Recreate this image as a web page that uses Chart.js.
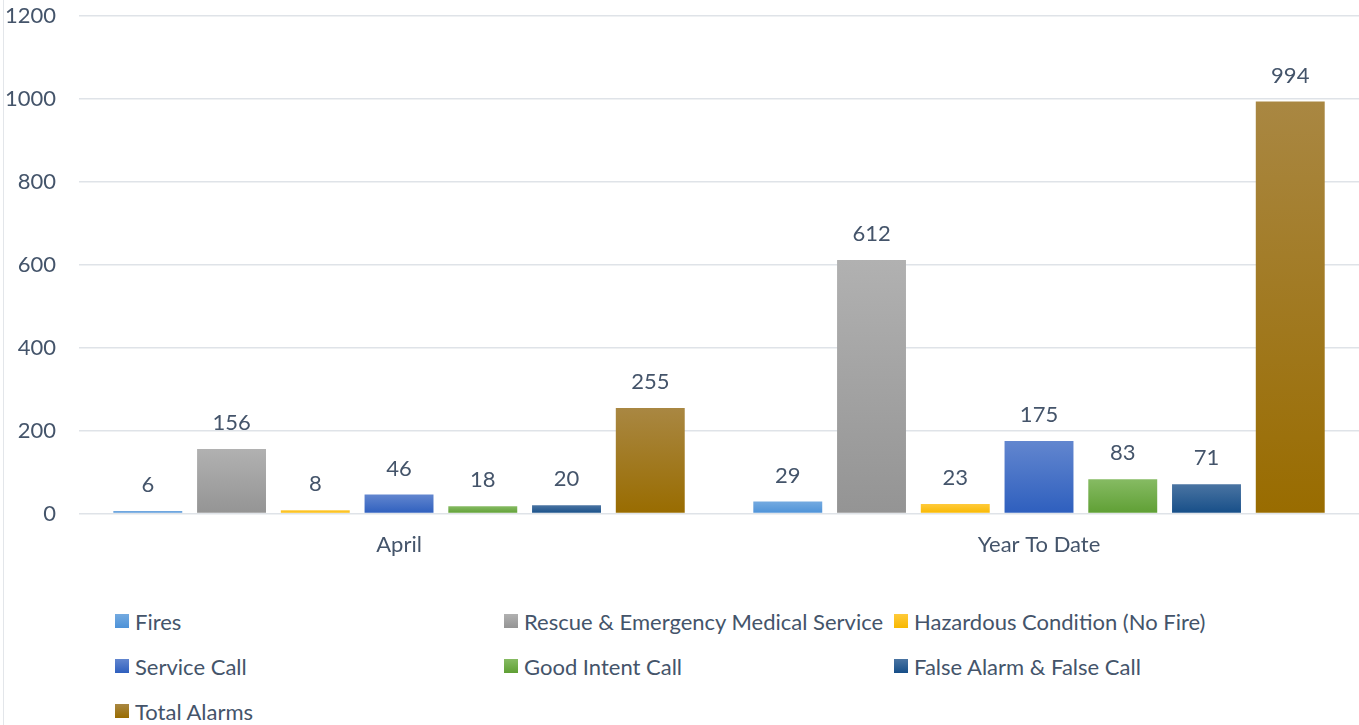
<!DOCTYPE html>
<html>
<head>
<meta charset="utf-8">
<script src="https://cdn.jsdelivr.net/npm/chart.js@4.4.1/dist/chart.umd.min.js"></script>
<style>
  body { margin: 0; background: #fff; font-family: Lato, sans-serif; color: #44546a; }
  #wrap { position: relative; width: 1359px; height: 725px; overflow: hidden; }
  #frame { position: absolute; left: 3px; top: 0; width: 1px; height: 725px; background: #e3e6ea; }
  #chartBox { position: absolute; left: -22px; top: -20px; width: 1381px; height: 600px; }
  #legend { position: absolute; left: 115px; top: 608px; display: grid;
            grid-template-columns: 389px 390px auto; grid-auto-rows: 45px; font-size: 22px; }
  .item { display: flex; align-items: center; white-space: nowrap; height: 26px; }
  .box { width: 14px; height: 14px; margin-right: 6px; }
</style>
</head>
<body>
<div id="wrap">
  <div id="frame"></div>
  <div id="chartBox"><canvas id="barChart"></canvas></div>
  <div id="legend"></div>
</div>
<script>
const categories = ["April", "Year To Date"];
const seriesNames = ["Fires", "Rescue & Emergency Medical Service", "Hazardous Condition (No Fire)",
                     "Service Call", "Good Intent Call", "False Alarm & False Call", "Total Alarms"];
const fires = [6, 29];
const rescueEms = [156, 612];
const hazardous = [8, 23];
const serviceCall = [46, 175];
const goodIntent = [18, 83];
const falseAlarm = [20, 71];
const totalAlarms = [255, 994];
const yTicks = [0, 200, 400, 600, 800, 1000, 1200];

// top / bottom colours of each bar gradient
const gradColors = [
    ["#74aae0", "#4d92d8"],
    ["#b1b1b1", "#949494"],
    ["#ffca3a", "#f8b800"],
    ["#6286cf", "#2e5fbe"],
    ["#86bb63", "#5f9f34"],
    ["#4a74a2", "#164e88"],
    ["#a98742", "#996c00"]
];
const seriesValues = [fires, rescueEms, hazardous, serviceCall, goodIntent, falseAlarm, totalAlarms];
const textColor = "#44546a";
const fontSize = 22;

function barGradient(i) {
    return function (ctx) {
        let chart = ctx.chart;
        if (!chart.chartArea || ctx.raw === undefined) return gradColors[i][1];
        let y = chart.scales.y;
        let top = y.getPixelForValue(ctx.raw);
        let bottom = y.getPixelForValue(0);
        if (bottom - top < 1) top = bottom - 1;
        let g = chart.ctx.createLinearGradient(0, top, 0, bottom);
        g.addColorStop(0, gradColors[i][0]);
        g.addColorStop(1, gradColors[i][1]);
        return g;
    };
}

// value labels above the bars
const valueLabels = {
    id: 'valueLabels',
    afterDatasetsDraw(chart) {
        let c = chart.ctx;
        c.save();
        c.font = fontSize + 'px Lato';
        c.fillStyle = textColor;
        c.textAlign = 'center';
        c.textBaseline = 'middle';
        chart.data.datasets.forEach((ds, i) => {
            chart.getDatasetMeta(i).data.forEach((bar, j) => {
                c.fillText(ds.data[j], bar.x, bar.y - 26);
            });
        });
        c.restore();
    }
};

function barChart() {

    let barChart = document.getElementById('barChart')

    new Chart(barChart, {
        type: 'bar',
        data: {
            labels: categories,
            datasets: seriesNames.map((name, i) => ({
                label: name,
                data: seriesValues[i],
                backgroundColor: barGradient(i),
                categoryPercentage: 0.916,
                barPercentage: 0.823
            }))
        },
        options: {
            responsive: true,
            maintainAspectRatio: false,
            animation: false,
            layout: { padding: { top: 0, left: 4, right: 0, bottom: 4 } },
            plugins: {
                legend: { display: false },
                tooltip: { enabled: false }
            },
            scales: {
                x: {
                    grid: { display: false, drawTicks: false },
                    border: { display: false },
                    ticks: { color: textColor, font: { family: 'Lato', size: fontSize }, padding: 18 }
                },
                y: {
                    min: 0,
                    max: 1200,
                    afterBuildTicks: (axis) => { axis.ticks = yTicks.map(v => ({ value: v })); },
                    grid: { color: '#dfe3e8', lineWidth: 1.5, drawTicks: false },
                    border: { display: false },
                    ticks: {
                        color: textColor, font: { family: 'Lato', size: fontSize }, padding: 23,
                        callback: (v) => String(v)
                    }
                }
            }
        },
        plugins: [valueLabels]
    });
}

function buildLegend() {
    let legend = document.getElementById('legend');
    seriesNames.forEach((name, i) => {
        let item = document.createElement('div');
        item.className = 'item';
        let box = document.createElement('span');
        box.className = 'box';
        box.style.background = 'linear-gradient(' + gradColors[i][0] + ', ' + gradColors[i][1] + ')';
        item.appendChild(box);
        item.appendChild(document.createTextNode(name));
        legend.appendChild(item);
    });
}

barChart();
buildLegend();
</script>
</body>
</html>
